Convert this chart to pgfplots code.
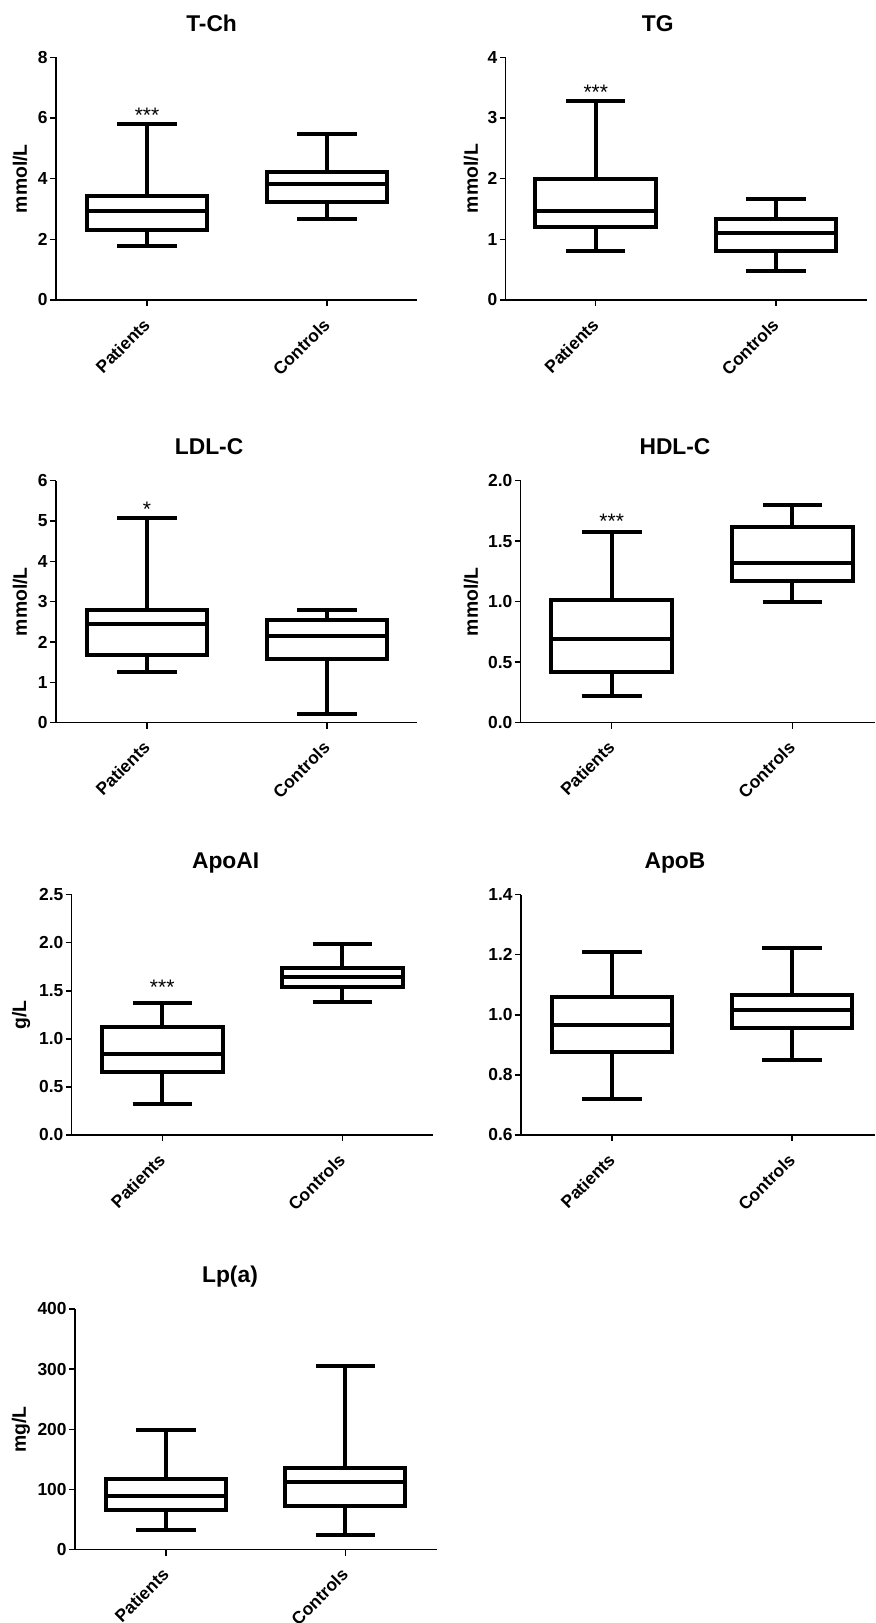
\documentclass[border=0pt]{standalone}
\usepackage{fontspec}
\setmainfont{Liberation Sans}
\usepackage{pgfplots}
\pgfplotsset{compat=1.18}
\usepgfplotslibrary{statistics}

\pgfplotsset{
  bp/.style={
    scale only axis,
    anchor=south west,
    axis lines=left,
    axis line style={-, line width=0.7pt},
    tick align=outside,
    major tick length=3pt,
    tick style={black, line width=0.7pt},
    xtick={0,1},
    xticklabels={Patients,Controls},
    xticklabel style={xshift=-2.5pt, rotate=45, anchor=north east, font=\bfseries\fontsize{8.7}{10}\selectfont, inner sep=1pt},
    xticklabel shift=4pt,
    yticklabel style={font=\bfseries\fontsize{8.7}{10}\selectfont, inner sep=1pt},
    /pgf/number format/assume math mode=true,
    ylabel style={font=\bfseries\fontsize{9.7}{11}\selectfont},
    title style={font=\bfseries\fontsize{11.4}{13}\selectfont, anchor=base, yshift=7pt},
    clip=false,
    boxplot/draw direction=y,
    boxplot/box extend=0.67,
    boxplot/whisker extend=0.33,
  },
  bx/.style={black, solid, line width=2pt},
  onedec/.style={yticklabel style={/pgf/number format/.cd, fixed, fixed zerofill, precision=1}},
}
\tikzset{st/.style={font=\fontsize{10.5}{11}\selectfont, yshift=-1.5pt}}

\begin{document}
\begin{tikzpicture}
\useasboundingbox (0,0) rectangle (437.5pt,811.5pt);

% T-Ch
\begin{axis}[bp, at={(28pt,661.5pt)}, width=180.5pt, height=121.35pt,
  xmin=-0.506, xmax=1.5, ymin=0, ymax=8, ytick={0,2,4,6,8},
  title={T-Ch}, title style={at={(axis description cs:0.431,1)}},
  ylabel={mmol/L}, ylabel style={at={(axis description cs:0,0.5)}, anchor=center, yshift=18pt}]
\addplot[bx, boxplot prepared={draw position=0, lower whisker=1.78, lower quartile=2.31, median=2.945, upper quartile=3.44, upper whisker=5.79}] coordinates {};
\addplot[bx, boxplot prepared={draw position=1, lower whisker=2.68, lower quartile=3.23, median=3.82, upper quartile=4.23, upper whisker=5.46}] coordinates {};
\node[st] at (axis cs:0,6.2) {***};
\end{axis}

% TG
\begin{axis}[bp, at={(252.85pt,661.5pt)}, width=180.65pt, height=121.35pt,
  xmin=-0.5, xmax=1.506, ymin=0, ymax=4, ytick={0,1,2,3,4},
  title={TG}, title style={at={(axis description cs:0.421,1)}},
  ylabel={mmol/L}, ylabel style={at={(axis description cs:0,0.5)}, anchor=center, yshift=17.3pt}]
\addplot[bx, boxplot prepared={draw position=0, lower whisker=0.81, lower quartile=1.20, median=1.47, upper quartile=1.99, upper whisker=3.28}] coordinates {};
\addplot[bx, boxplot prepared={draw position=1, lower whisker=0.48, lower quartile=0.81, median=1.10, upper quartile=1.34, upper whisker=1.66}] coordinates {};
\node[st] at (axis cs:0,3.47) {***};
\end{axis}

% LDL-C
\begin{axis}[bp, at={(28pt,450.15pt)}, width=180.5pt, height=121pt,
  xmin=-0.506, xmax=1.5, ymin=0, ymax=6, ytick={0,1,2,3,4,5,6},
  title={LDL-C}, title style={at={(axis description cs:0.424,1)}},
  ylabel={mmol/L}, ylabel style={at={(axis description cs:0,0.5)}, anchor=center, yshift=18pt}]
\addplot[bx, boxplot prepared={draw position=0, lower whisker=1.26, lower quartile=1.69, median=2.44, upper quartile=2.80, upper whisker=5.08}] coordinates {};
\addplot[bx, boxplot prepared={draw position=1, lower whisker=0.21, lower quartile=1.59, median=2.16, upper quartile=2.55, upper whisker=2.79}] coordinates {};
\node[st] at (axis cs:0,5.36) {*};
\end{axis}

% HDL-C
\begin{axis}[bp, onedec, at={(260.35pt,450.15pt)}, width=177.15pt, height=121pt,
  xmin=-0.504, xmax=1.458, ymin=0, ymax=2, ytick={0,0.5,1,1.5,2},
  title={HDL-C}, title style={at={(axis description cs:0.4355,1)}},
  ylabel={mmol/L}, ylabel style={at={(axis description cs:0,0.5)}, anchor=center, yshift=24.8pt}]
\addplot[bx, boxplot prepared={draw position=0, lower whisker=0.22, lower quartile=0.416, median=0.689, upper quartile=1.011, upper whisker=1.573}] coordinates {};
\addplot[bx, boxplot prepared={draw position=1, lower whisker=0.997, lower quartile=1.168, median=1.32, upper quartile=1.614, upper whisker=1.80}] coordinates {};
\node[st] at (axis cs:0,1.69) {***};
\end{axis}

% ApoAI
\begin{axis}[bp, onedec, at={(35.85pt,244pt)}, width=180.65pt, height=120.15pt,
  xmin=-0.503, xmax=1.504, ymin=0, ymax=2.5, ytick={0,0.5,1,1.5,2,2.5},
  title={ApoAI}, title style={at={(axis description cs:0.426,1)}},
  ylabel={g/L}, ylabel style={at={(axis description cs:0,0.5)}, anchor=center, yshift=25.3pt}]
\addplot[bx, boxplot prepared={draw position=0, lower whisker=0.32, lower quartile=0.66, median=0.846, upper quartile=1.12, upper whisker=1.37}] coordinates {};
\addplot[bx, boxplot prepared={draw position=1, lower whisker=1.38, lower quartile=1.536, median=1.64, upper quartile=1.74, upper whisker=1.99}] coordinates {};
\node[st] at (axis cs:0,1.57) {***};
\end{axis}

% ApoB
\begin{axis}[bp, onedec, at={(260.5pt,244pt)}, width=177pt, height=120.15pt,
  xmin=-0.506, xmax=1.46, ymin=0.6, ymax=1.4, ytick={0.6,0.8,1.0,1.2,1.4},
  title={ApoB}, title style={at={(axis description cs:0.435,1)}}]
\addplot[bx, boxplot prepared={draw position=0, lower whisker=0.719, lower quartile=0.875, median=0.966, upper quartile=1.059, upper whisker=1.210}] coordinates {};
\addplot[bx, boxplot prepared={draw position=1, lower whisker=0.849, lower quartile=0.956, median=1.017, upper quartile=1.066, upper whisker=1.223}] coordinates {};
\end{axis}

% Lp(a)  (categories at 0 and 100 to keep TeX dimensions small)
\begin{axis}[bp, disabledatascaling, at={(37.5pt,36.65pt)}, width=180.85pt, height=120.35pt,
  xmin=-50.8, xmax=151, xtick={0,100}, ymin=0, ymax=400, ytick={0,100,200,300,400},
  boxplot/box extend=67, boxplot/whisker extend=33,
  title={Lp(a)}, title style={at={(axis description cs:0.4285,1)}},
  ylabel={mg/L}, ylabel style={at={(axis description cs:0,0.5)}, anchor=center, yshift=27pt}]
\addplot[bx, boxplot prepared={draw position=0, lower whisker=33.2, lower quartile=65.4, median=89.8, upper quartile=116.9, upper whisker=199.4}] coordinates {};
\addplot[bx, boxplot prepared={draw position=100, lower whisker=24.4, lower quartile=73.1, median=111.9, upper quartile=135.7, upper whisker=305.8}] coordinates {};
\end{axis}
\end{tikzpicture}
\end{document}
